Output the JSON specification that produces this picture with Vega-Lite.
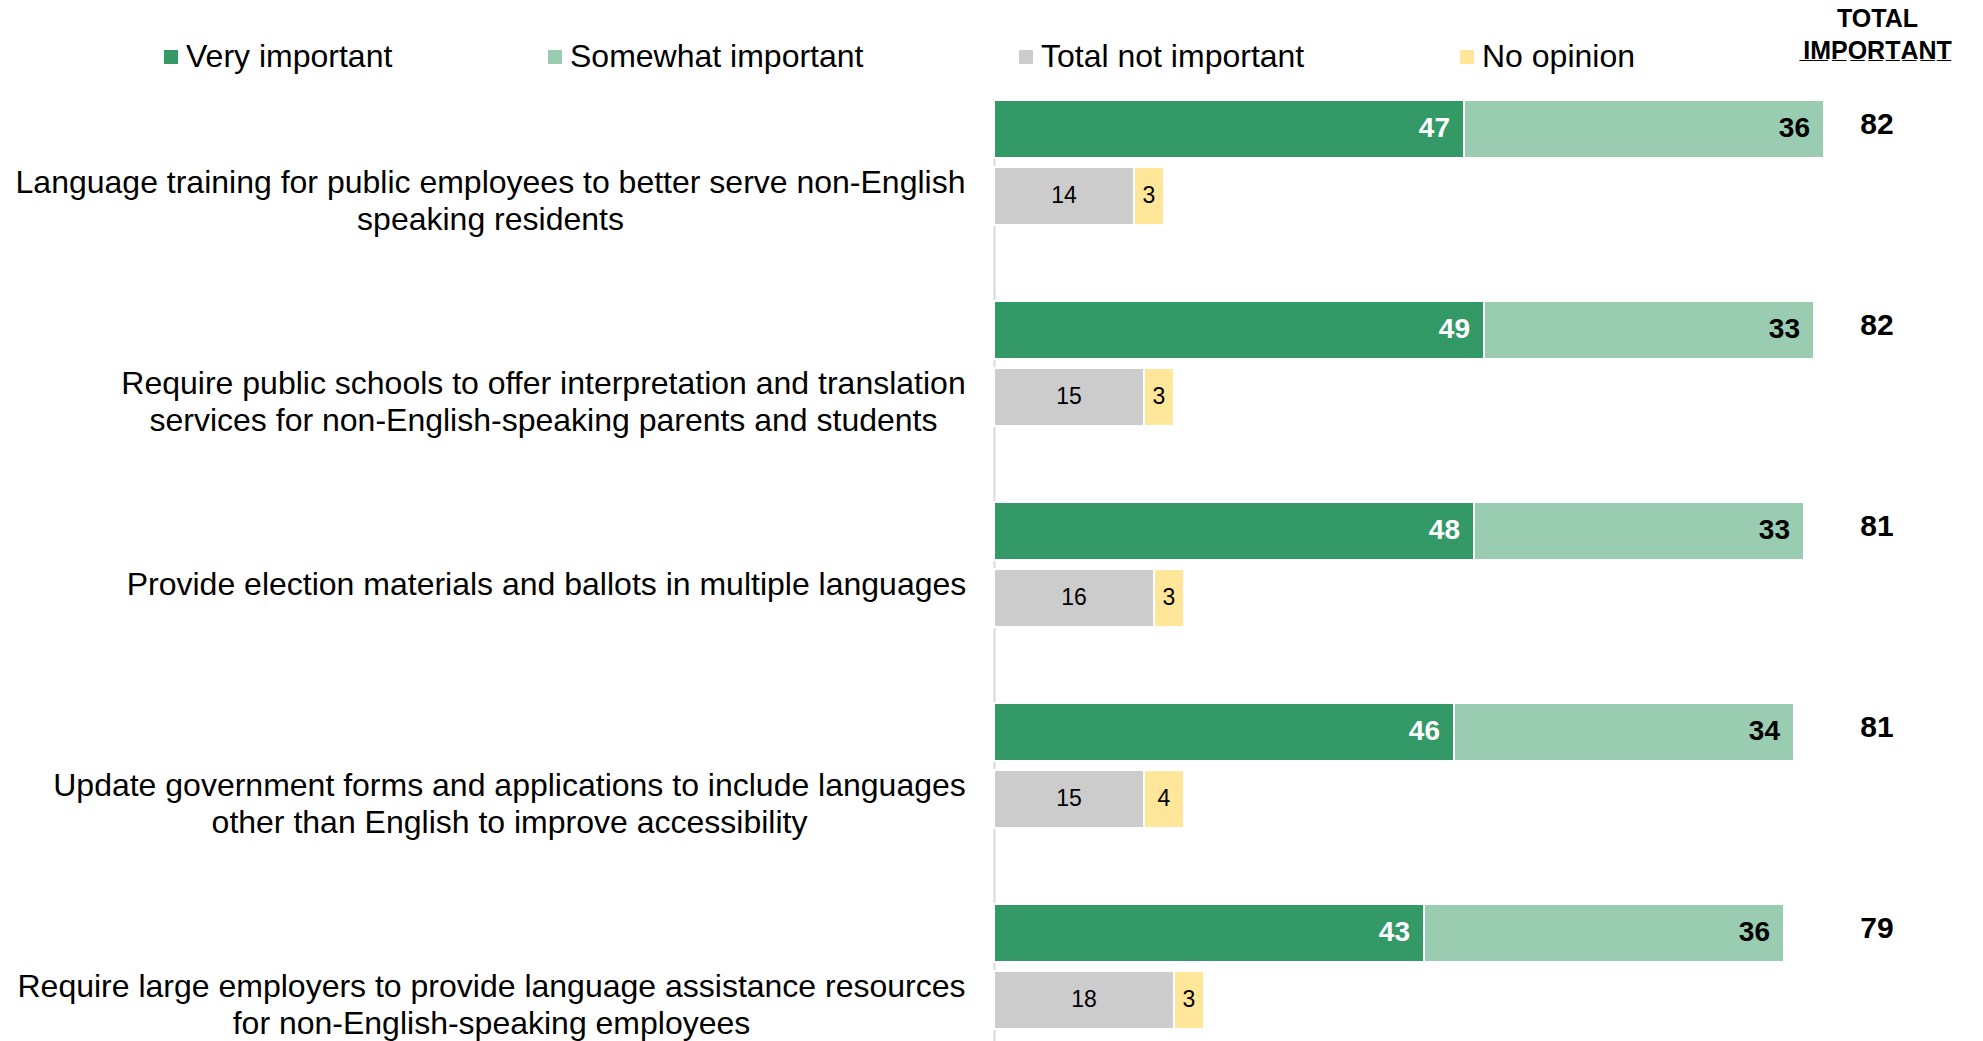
{
  "$schema": "https://vega.github.io/schema/vega-lite/v6.json",
  "autosize": "none",
  "width": 980,
  "height": 1005,
  "padding": {"left": 994, "top": 100, "right": 0, "bottom": 0},
  "background": "white",
  "datasets": {
    "bars": [
      {"q": "Language training for public employees to better serve non-English|speaking residents", "cat": "Very important", "row": "imp", "value": 47},
      {"q": "Language training for public employees to better serve non-English|speaking residents", "cat": "Somewhat important", "row": "imp", "value": 36},
      {"q": "Language training for public employees to better serve non-English|speaking residents", "cat": "Total not important", "row": "not", "value": 14},
      {"q": "Language training for public employees to better serve non-English|speaking residents", "cat": "No opinion", "row": "not", "value": 3},
      {"q": "Require public schools to offer interpretation and translation|services for non-English-speaking parents and students", "cat": "Very important", "row": "imp", "value": 49},
      {"q": "Require public schools to offer interpretation and translation|services for non-English-speaking parents and students", "cat": "Somewhat important", "row": "imp", "value": 33},
      {"q": "Require public schools to offer interpretation and translation|services for non-English-speaking parents and students", "cat": "Total not important", "row": "not", "value": 15},
      {"q": "Require public schools to offer interpretation and translation|services for non-English-speaking parents and students", "cat": "No opinion", "row": "not", "value": 3},
      {"q": "Provide election materials and ballots in multiple languages", "cat": "Very important", "row": "imp", "value": 48},
      {"q": "Provide election materials and ballots in multiple languages", "cat": "Somewhat important", "row": "imp", "value": 33},
      {"q": "Provide election materials and ballots in multiple languages", "cat": "Total not important", "row": "not", "value": 16},
      {"q": "Provide election materials and ballots in multiple languages", "cat": "No opinion", "row": "not", "value": 3},
      {"q": "Update government forms and applications to include languages|other than English to improve accessibility", "cat": "Very important", "row": "imp", "value": 46},
      {"q": "Update government forms and applications to include languages|other than English to improve accessibility", "cat": "Somewhat important", "row": "imp", "value": 34},
      {"q": "Update government forms and applications to include languages|other than English to improve accessibility", "cat": "Total not important", "row": "not", "value": 15},
      {"q": "Update government forms and applications to include languages|other than English to improve accessibility", "cat": "No opinion", "row": "not", "value": 4},
      {"q": "Require large employers to provide language assistance resources|for non-English-speaking employees", "cat": "Very important", "row": "imp", "value": 43},
      {"q": "Require large employers to provide language assistance resources|for non-English-speaking employees", "cat": "Somewhat important", "row": "imp", "value": 36},
      {"q": "Require large employers to provide language assistance resources|for non-English-speaking employees", "cat": "Total not important", "row": "not", "value": 18},
      {"q": "Require large employers to provide language assistance resources|for non-English-speaking employees", "cat": "No opinion", "row": "not", "value": 3}
    ],
    "totals": [
      {"q": "Language training for public employees to better serve non-English|speaking residents", "total": 82},
      {"q": "Require public schools to offer interpretation and translation|services for non-English-speaking parents and students", "total": 82},
      {"q": "Provide election materials and ballots in multiple languages", "total": 81},
      {"q": "Update government forms and applications to include languages|other than English to improve accessibility", "total": 81},
      {"q": "Require large employers to provide language assistance resources|for non-English-speaking employees", "total": 79}
    ]
  },
  "encoding": {
    "y": {
      "field": "q", "type": "nominal", "sort": null, "title": null,
      "scale": {"paddingInner": 0, "paddingOuter": 0},
      "axis": {
        "labelExpr": "split(datum.label, '|')",
        "labelFont": "Liberation Sans", "labelFontSize": 32, "labelColor": "black",
        "labelLineHeight": 37, "labelLimit": 0, "labelAlign": "center", "labelBaseline": "middle",
        "labelOffset": -18,
        "labelPadding": {
          "condition": [
            {"test": "datum.value == 'Language training for public employees to better serve non-English|speaking residents'", "value": 504},
            {"test": "datum.value == 'Require public schools to offer interpretation and translation|services for non-English-speaking parents and students'", "value": 451},
            {"test": "datum.value == 'Provide election materials and ballots in multiple languages'", "value": 448},
            {"test": "datum.value == 'Update government forms and applications to include languages|other than English to improve accessibility'", "value": 485}
          ],
          "value": 503
        },
        "ticks": false, "domainColor": "#d9d9d9", "domainWidth": 2, "grid": false
      }
    }
  },
  "layer": [
    {
      "data": {"name": "bars"},
      "transform": [
        {"calculate": "datum.cat == 'Very important' ? 0 : datum.cat == 'Somewhat important' ? 1 : datum.cat == 'Total not important' ? 2 : 3", "as": "ord"},
        {"stack": "value", "groupby": ["q", "row"], "sort": [{"field": "ord", "order": "ascending"}], "as": ["x0", "x1"]}
      ],
      "mark": {"type": "bar", "stroke": "white", "strokeWidth": 2},
      "encoding": {
        "x": {"field": "x0", "type": "quantitative", "scale": {"domain": [0, 98], "nice": false, "zero": true},
          "axis": {"orient": "top", "labels": false, "ticks": false, "domain": false, "grid": false,
            "title": ["TOTAL", "I\u0332M\u0332P\u0332O\u0332R\u0332T\u0332A\u0332N\u0332T\u0332"],
            "titleX": 883, "titleY": -82, "titleAlign": "center", "titleBaseline": "middle", "titleAngle": 0,
            "titleFont": "Liberation Sans", "titleFontSize": 25, "titleFontWeight": "bold", "titleColor": "black", "titleLineHeight": 32}},
        "x2": {"field": "x1"},
        "yOffset": {"field": "row", "type": "nominal", "scale": {"domain": ["imp", "not", "pad"], "paddingInner": 0.134, "paddingOuter": 0.067, "align": 0}},
        "color": {
          "field": "cat", "type": "nominal",
          "scale": {"domain": ["Very important", "Somewhat important", "Total not important", "No opinion"], "range": ["#339966", "#99CCB1", "#CCCCCC", "#FFE699"]},
          "legend": {"orient": "none", "legendX": -839, "legendY": -59, "direction": "horizontal", "columns": 4, "title": null,
            "symbolType": "square", "symbolSize": 196, "symbolStrokeWidth": 0, "labelFont": "Liberation Sans", "labelFontSize": 32,
            "labelColor": "black", "columnPadding": 146, "labelOffset": -1, "labelLimit": 0}
        }
      }
    },
    {
      "data": {"name": "bars"},
      "transform": [
        {"calculate": "datum.cat == 'Very important' ? 0 : datum.cat == 'Somewhat important' ? 1 : datum.cat == 'Total not important' ? 2 : 3", "as": "ord"},
        {"stack": "value", "groupby": ["q", "row"], "sort": [{"field": "ord", "order": "ascending"}], "as": ["x0", "x1"]},
        {"filter": "datum.row == 'imp'"}
      ],
      "mark": {"type": "text", "align": "right", "baseline": "middle", "dx": -14, "font": "Liberation Sans", "fontSize": 28, "fontWeight": "bold"},
      "encoding": {
        "x": {"field": "x1", "type": "quantitative"},
        "yOffset": {"field": "row", "type": "nominal"},
        "text": {"field": "value", "type": "quantitative"},
        "color": {"condition": {"test": "datum.cat == 'Very important'", "value": "white"}, "value": "black"}
      }
    },
    {
      "data": {"name": "bars"},
      "transform": [
        {"calculate": "datum.cat == 'Very important' ? 0 : datum.cat == 'Somewhat important' ? 1 : datum.cat == 'Total not important' ? 2 : 3", "as": "ord"},
        {"stack": "value", "groupby": ["q", "row"], "sort": [{"field": "ord", "order": "ascending"}], "as": ["x0", "x1"]},
        {"filter": "datum.row == 'not'"},
        {"calculate": "(datum.x0 + datum.x1) / 2", "as": "mid"}
      ],
      "mark": {"type": "text", "align": "center", "baseline": "middle", "font": "Liberation Sans", "fontSize": 23, "color": "black"},
      "encoding": {
        "x": {"field": "mid", "type": "quantitative"},
        "yOffset": {"field": "row", "type": "nominal"},
        "text": {"field": "value", "type": "quantitative"}
      }
    },
    {
      "data": {"name": "totals"},
      "mark": {"type": "text", "align": "center", "baseline": "middle", "dy": -4, "font": "Liberation Sans", "fontSize": 30, "fontWeight": "bold", "color": "black"},
      "encoding": {
        "x": {"datum": 88.3, "type": "quantitative"},
        "yOffset": {"datum": "imp", "type": "nominal"},
        "text": {"field": "total", "type": "quantitative"}
      }
    }
  ],
  "config": {"view": {"stroke": null}}
}
